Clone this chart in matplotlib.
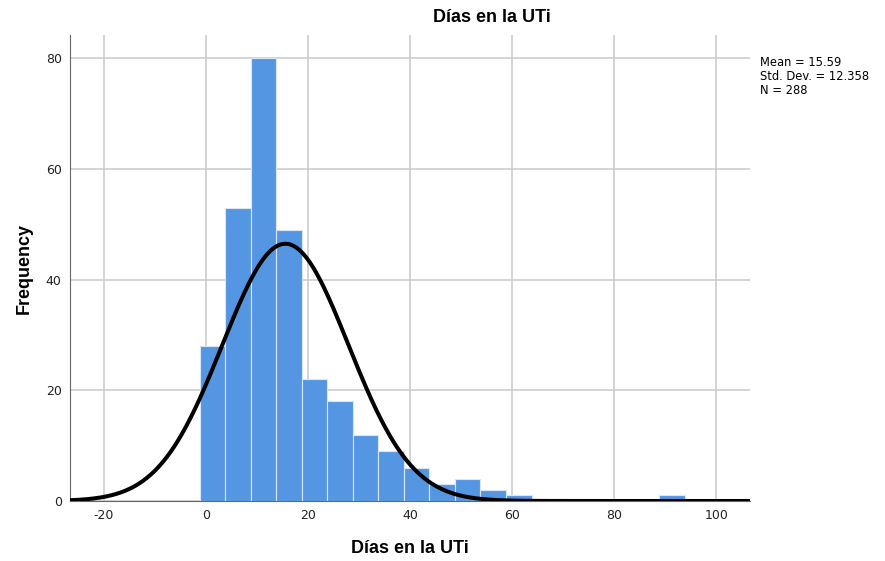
import numpy as np
import matplotlib
matplotlib.use("Agg")
import matplotlib.pyplot as plt

plt.rcParams["axes.unicode_minus"] = False

# histogram of ICU stay (days), 5-day bins
bin_start = -1.2
bin_width = 5
counts = [28, 53, 80, 49, 22, 18, 12, 9, 6, 3, 4, 2, 1, 0, 0, 0, 0, 0, 1]
mean = 15.59
std = 12.358
n = 288

x_ticks = [-20, 0, 20, 40, 60, 80, 100]
y_ticks = [0, 20, 40, 60, 80]

bar_color = "#5596e3"
grid_color = "#c9c9c9"

fig = plt.figure(figsize=(8.85, 5.61), dpi=100)
ax = fig.add_axes([70 / 885, 60 / 561, 680 / 885, 466 / 561])

edges = bin_start + bin_width * np.arange(len(counts) + 1)
ax.bar(edges[:-1], counts, width=bin_width, align="edge", color=bar_color,
       edgecolor="#d8e6f8", linewidth=0.8, zorder=2)

# fitted normal curve scaled to counts
xs = np.linspace(-27, 107, 600)
pdf = np.exp(-0.5 * ((xs - mean) / std) ** 2) / (std * np.sqrt(2 * np.pi))
ax.plot(xs, pdf * n * bin_width, color="black", lw=2.9, zorder=3,
        solid_capstyle="butt")

ax.set_xlim(-26.6, 106.6)
ax.set_ylim(0, 84.2)
ax.set_xticks(x_ticks)
ax.set_yticks(y_ticks)
ax.grid(True, color=grid_color, lw=1.1, zorder=0)
ax.set_axisbelow(True)
ax.tick_params(length=0, labelsize=9, colors="#222222", pad=6)
for s in ["top", "right"]:
    ax.spines[s].set_visible(False)
ax.spines["left"].set_color("#666666")
ax.spines["bottom"].set_color("#666666")

ax.set_xlabel("Días en la UTi", fontsize=13, fontweight="bold",
              family="Liberation Sans", labelpad=13)
ax.set_ylabel("Frequency", fontsize=13, fontweight="bold",
              family="Liberation Sans", labelpad=9)

fig.text(492 / 885, 1 - 18 / 561, "Días en la UTi", ha="center", va="center",
         fontsize=13, fontweight="bold", family="Liberation Sans")

fig.text(760 / 885, 1 - 56 / 561,
         f"Mean = {mean}\nStd. Dev. = {std}\nN = {n}",
         ha="left", va="top", fontsize=8.3, linespacing=1.12)

fig.savefig("out.png", dpi=100, facecolor="white")
